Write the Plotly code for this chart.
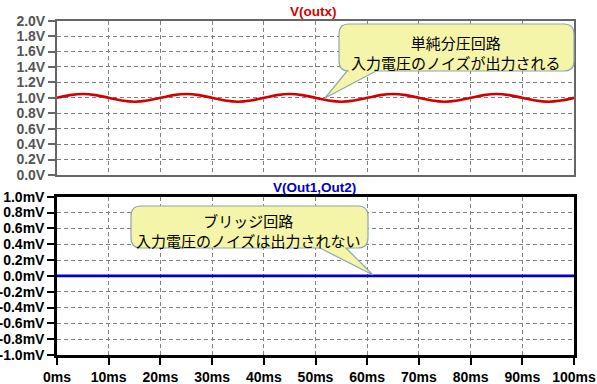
import plotly.graph_objects as go

# ---- data ----
t_ms = [0, 2.5, 5, 7.5, 10, 12.5, 15, 17.5, 20, 22.5, 25, 27.5, 30, 32.5, 35, 37.5,
        40, 42.5, 45, 47.5, 50, 52.5, 55, 57.5, 60, 62.5, 65, 67.5, 70, 72.5, 75, 77.5,
        80, 82.5, 85, 87.5, 90, 92.5, 95, 97.5, 100]
v_outx = [1.0, 1.035, 1.05, 1.035, 1.0, 0.965, 0.95, 0.965,
          1.0, 1.035, 1.05, 1.035, 1.0, 0.965, 0.95, 0.965,
          1.0, 1.035, 1.05, 1.035, 1.0, 0.965, 0.95, 0.965,
          1.0, 1.035, 1.05, 1.035, 1.0, 0.965, 0.95, 0.965,
          1.0, 1.035, 1.05, 1.035, 1.0, 0.965, 0.95, 0.965, 1.0]
t2_ms = [0, 100]
v_out12_mV = [0.0, 0.0]

top_ticks = [0.0, 0.2, 0.4, 0.6, 0.8, 1.0, 1.2, 1.4, 1.6, 1.8, 2.0]
top_labels = [f"{v:.1f}V" for v in top_ticks]
bot_ticks = [-1.0, -0.8, -0.6, -0.4, -0.2, 0.0, 0.2, 0.4, 0.6, 0.8, 1.0]
bot_labels = [f"{v:.1f}mV" for v in bot_ticks]
x_ticks = [0, 10, 20, 30, 40, 50, 60, 70, 80, 90, 100]
x_labels = [f"{v}ms" for v in x_ticks]

title_top = "V(outx)"
title_bot = "V(Out1,Out2)"
note_top = "単純分圧回路<br>入力電圧のノイズが出力される"
note_bot = "ブリッジ回路<br>入力電圧のノイズは出力されない"

# ---- layout geometry (pixels) ----
W, H = 597, 384
ML, MR, MT, MB = 57, 23, 20, 29
PW, PH = W - ML - MR, H - MT - MB


def px(x):
    return (x - ML) / PW


def py(y):
    return (H - MB - y) / PH


fig = go.Figure()
fig.add_trace(go.Scatter(x=t_ms, y=v_outx, mode="lines", line=dict(color="#d40000", width=2.6, shape="spline"),
                         xaxis="x", yaxis="y", showlegend=False, hoverinfo="skip"))
fig.add_trace(go.Scatter(x=t2_ms, y=v_out12_mV, mode="lines", line=dict(color="#0000c8", width=2.6),
                         xaxis="x2", yaxis="y2", showlegend=False, hoverinfo="skip"))

tickfont = dict(family="Liberation Sans, Arial, sans-serif", size=14, weight="bold")
grid = dict(showgrid=True, gridcolor="#808080", gridwidth=1, griddash="4px,3px", zeroline=False,
            automargin=False)

fig.update_layout(
    width=W, height=H, margin=dict(l=ML, r=MR, t=MT, b=MB, autoexpand=False),
    paper_bgcolor="white", plot_bgcolor="white",
    xaxis=dict(domain=[0, 1], range=[0, 100], anchor="y", tickvals=x_ticks, showticklabels=False,
               ticks="", showline=True, linecolor="#666666", linewidth=2, mirror=True, **grid),
    yaxis=dict(domain=[py(175), py(20.7)], range=[0, 2.0], anchor="x", tickvals=top_ticks, ticktext=top_labels,
               ticks="outside", ticklen=7, tickwidth=2, tickcolor="#666666",
               tickfont=dict(color="#555555", **tickfont), showline=True, linecolor="#666666",
               linewidth=2, mirror=True, **grid),
    xaxis2=dict(domain=[0, 1], range=[0, 100], anchor="y2", tickvals=x_ticks, ticktext=x_labels,
                ticks="outside", ticklen=7, tickwidth=2, tickcolor="black",
                tickfont=dict(color="black", **tickfont), showline=True, linecolor="black",
                linewidth=2.5, mirror=True, **grid),
    yaxis2=dict(domain=[0, py(196.7)], range=[-1.0, 1.0], anchor="x2", tickvals=bot_ticks, ticktext=bot_labels,
                ticks="outside", ticklen=7, tickwidth=2, tickcolor="black",
                tickfont=dict(color="black", **tickfont), showline=True, linecolor="black",
                linewidth=2.5, mirror=True, **grid),
)


def bubble(L, R, T, B, r, b1, b2, tip):
    d = f"M {px(L + r)},{py(T)} L {px(R - r)},{py(T)} Q {px(R)},{py(T)} {px(R)},{py(T + r)} "
    d += f"L {px(R)},{py(B - r)} Q {px(R)},{py(B)} {px(R - r)},{py(B)} "
    d += f"L {px(b2)},{py(B)} L {px(tip[0])},{py(tip[1])} L {px(b1)},{py(B)} "
    d += f"L {px(L + r)},{py(B)} Q {px(L)},{py(B)} {px(L)},{py(B - r)} "
    d += f"L {px(L)},{py(T + r)} Q {px(L)},{py(T)} {px(L + r)},{py(T)} Z"
    return dict(type="path", path=d, xref="paper", yref="paper", fillcolor="#f5f5aa",
                line=dict(color="#8fa6aa", width=1.2), layer="above")


fig.add_shape(bubble(339, 574, 24, 71, 10, 347, 376, (325, 98)))
fig.add_shape(bubble(131, 368, 206, 248, 10, 320, 346, (373, 275)))

jp = dict(family="Noto Sans CJK JP, sans-serif", size=15, color="black")
fig.add_annotation(x=px(456), y=py(52), xref="paper", yref="paper", text=note_top, showarrow=False,
                   font=jp, align="center", xanchor="center", yanchor="middle")
fig.add_annotation(x=px(248), y=py(230), xref="paper", yref="paper", text=note_bot, showarrow=False,
                   font=jp, align="center", xanchor="center", yanchor="middle")

tf = dict(family="Liberation Sans, Arial, sans-serif", size=13.5, weight="bold")
fig.add_annotation(x=px(313), y=py(12), xref="paper", yref="paper", text=title_top, showarrow=False,
                   font=dict(color="#d40000", **tf), xanchor="center", yanchor="middle")
fig.add_annotation(x=px(314), y=py(187), xref="paper", yref="paper", text=title_bot, showarrow=False,
                   font=dict(color="#0000c0", **tf), xanchor="center", yanchor="middle")

fig.write_html("out.html", config={"displayModeBar": False},
               post_script="document.body.style.margin='0';document.body.style.overflow='hidden';")
